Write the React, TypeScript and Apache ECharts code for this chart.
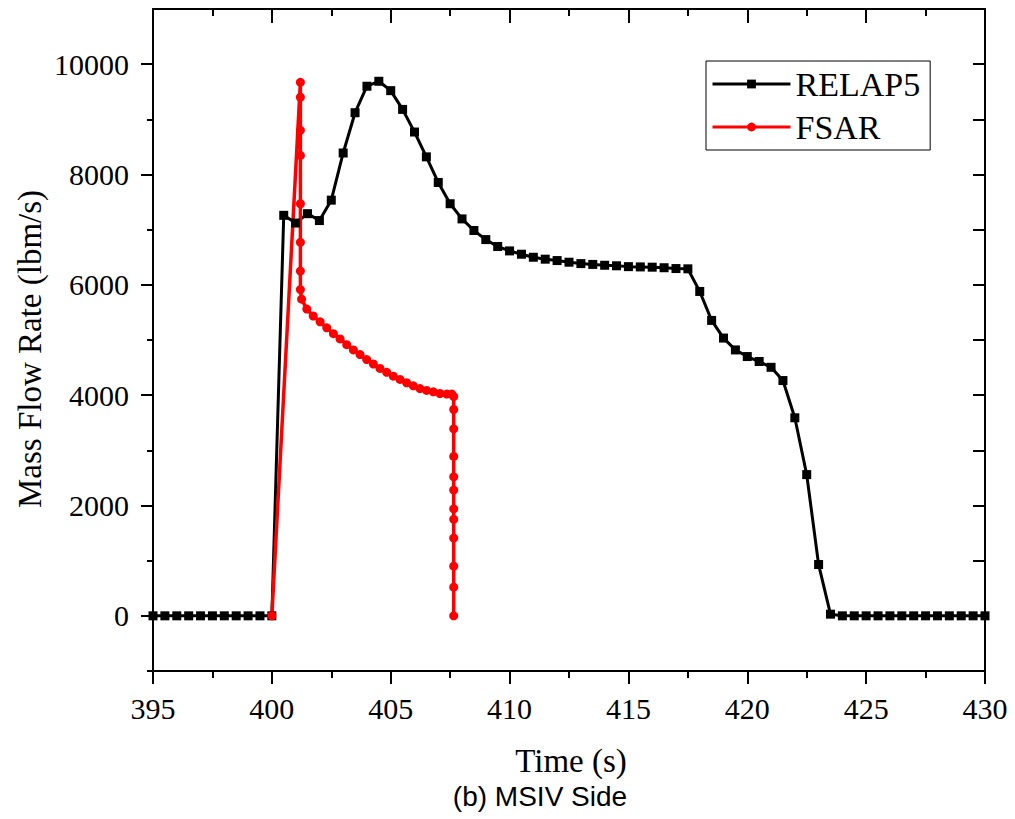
import React, { useEffect, useRef } from "react";
import * as echarts from "echarts";

const relapTime = [
  395, 395.5, 396, 396.5, 397, 397.5, 398, 398.5, 399, 399.5, 400,
  400.5, 401, 401.5, 402, 402.5, 403, 403.5, 404, 404.5, 405, 405.5, 406, 406.5,
  407, 407.5, 408, 408.5, 409, 409.5, 410, 410.5, 411, 411.5, 412, 412.5, 413,
  413.5, 414, 414.5, 415, 415.5, 416, 416.5, 417, 417.5, 418, 418.5, 419, 419.5,
  420, 420.5, 421, 421.5, 422, 422.5, 423, 423.5,
  424, 424.5, 425, 425.5, 426, 426.5, 427, 427.5, 428, 428.5, 429, 429.5, 430,
];
const relapValue = [
  0, 0, 0, 0, 0, 0, 0, 0, 0, 0, 0,
  7260, 7120, 7290, 7165, 7535, 8390, 9120, 9600, 9690, 9520, 9180, 8770, 8320,
  7855, 7470, 7195, 6985, 6820, 6695, 6615, 6555, 6500, 6465, 6440, 6410, 6385,
  6370, 6355, 6345, 6330, 6325, 6320, 6310, 6295, 6290, 5880, 5355, 5035, 4820,
  4700, 4610, 4505, 4265, 3590, 2560, 930, 30,
  0, 0, 0, 0, 0, 0, 0, 0, 0, 0, 0, 0, 0,
];

const fsarTime = [
  400, 401.2, 401.2, 401.2, 401.2, 401.2, 401.2, 401.2, 401.2,
  401.25, 401.47, 401.74, 402.03, 402.31, 402.59, 402.87, 403.15, 403.43, 403.71,
  403.99, 404.27, 404.55, 404.83, 405.11, 405.39, 405.67, 405.95, 406.23, 406.51,
  406.79, 407.07, 407.36, 407.57,
  407.65, 407.65, 407.65, 407.65, 407.65, 407.65, 407.65, 407.65, 407.65, 407.65, 407.65, 407.65,
];
const fsarValue = [
  0, 9670, 9400, 8800, 8345, 7470, 6770, 6250, 5915,
  5740, 5560, 5435, 5330, 5220, 5115, 5020, 4915, 4820, 4735,
  4645, 4565, 4485, 4415, 4345, 4285, 4225, 4170, 4120, 4085,
  4060, 4030, 4020, 4020,
  3975, 3740, 3390, 2890, 2520, 2280, 1940, 1750, 1410, 900, 520, 0,
];

const seriesNames = ["RELAP5", "FSAR"];
const yMajor = [0, 2000, 4000, 6000, 8000, 10000];
const yMinor = [-1000, 1000, 3000, 5000, 7000, 9000];

const serif = "'Liberation Serif', 'Times New Roman', serif";

export default function App() {
  const ref = useRef<HTMLDivElement>(null);
  useEffect(() => {
    if (!ref.current) return;
    const chart = echarts.init(ref.current, undefined, { renderer: "svg" });
    const axisLine = { show: true, onZero: false, lineStyle: { color: "#000", width: 2 } };
    const relapData = relapTime.map((t, i) => [t, relapValue[i]]);
    const fsarData = fsarTime.map((t, i) => [t, fsarValue[i]]);
    chart.setOption({
      animation: false,
      backgroundColor: "#fff",
      grid: { left: 153, right: 30, top: 9, bottom: 148, containLabel: false },
      xAxis: [
        {
          type: "value", min: 395, max: 430, interval: 5, position: "bottom",
          axisLine,
          axisTick: { show: true, length: 13, inside: false, lineStyle: { color: "#000", width: 2 } },
          minorTick: { show: true, splitNumber: 2, length: 7, lineStyle: { color: "#000", width: 2 } },
          axisLabel: { margin: 22, color: "#000", fontSize: 30, fontFamily: serif, formatter: (v: number) => String(v) },
          splitLine: { show: false }, minorSplitLine: { show: false },
        },
        {
          type: "value", min: 395, max: 430, interval: 5, position: "top",
          axisLine,
          axisTick: { show: true, length: 14, inside: true, lineStyle: { color: "#000", width: 2 } },
          minorTick: { show: true, splitNumber: 2, length: 7, lineStyle: { color: "#000", width: 2 } },
          axisLabel: { show: false },
          splitLine: { show: false }, minorSplitLine: { show: false },
        },
      ],
      yAxis: [
        {
          type: "value", min: -1000, max: 11000, interval: 1000, position: "left",
          axisLine,
          axisTick: { show: true, length: 12, inside: false, customValues: yMajor, lineStyle: { color: "#000", width: 2 } },
          axisLabel: { customValues: yMajor, margin: 24, color: "#000", fontSize: 30, fontFamily: serif, formatter: (v: number) => String(v) },
          splitLine: { show: false },
        },
        {
          type: "value", min: -1000, max: 11000, interval: 1000, position: "left",
          axisLine: { show: false },
          axisTick: { show: true, length: 6, inside: false, customValues: yMinor, lineStyle: { color: "#000", width: 2 } },
          axisLabel: { show: false },
          splitLine: { show: false },
        },
        {
          type: "value", min: -1000, max: 11000, interval: 1000, position: "right",
          axisLine,
          axisTick: { show: true, length: 12, inside: true, lineStyle: { color: "#000", width: 2 } },
          axisLabel: { show: false },
          splitLine: { show: false },
        },
      ],
      legend: {
        orient: "vertical", left: 706, top: 61,
        padding: [6, 10, 6, 5], itemGap: 9, itemWidth: 78, itemHeight: 11,
        borderColor: "#000", borderWidth: 1, borderRadius: 0,
        backgroundColor: "#fff",
        lineStyle: { width: 3 },
        textStyle: { fontSize: 34, fontFamily: serif, color: "#000" },
        data: seriesNames,
      },
      series: [
        {
          name: seriesNames[0], type: "line", xAxisIndex: 0, yAxisIndex: 0,
          data: relapData, symbol: "rect", symbolSize: 9, showAllSymbol: true,
          lineStyle: { color: "#000", width: 3 },
          itemStyle: { color: "#000" },
          emphasis: { disabled: true },
        },
        {
          name: seriesNames[1], type: "line", xAxisIndex: 0, yAxisIndex: 0,
          data: fsarData, symbol: "circle", symbolSize: 9, showAllSymbol: true,
          lineStyle: { color: "#ff0000", width: 3.5 },
          itemStyle: { color: "#ff0000" },
          emphasis: { disabled: true },
        },
      ],
      graphic: [
        {
          type: "text", x: 571, y: 761,
          style: { text: "Time (s)", font: `33px ${serif}`, fill: "#000", align: "center", verticalAlign: "middle", textAlign: "center", textVerticalAlign: "middle" },
        },
        {
          type: "text", x: 30, y: 349, rotation: Math.PI / 2,
          style: { text: "Mass Flow Rate (lbm/s)", font: `33px ${serif}`, fill: "#000", align: "center", verticalAlign: "middle", textAlign: "center", textVerticalAlign: "middle" },
        },
        {
          type: "text", x: 540, y: 796,
          style: { text: "(b) MSIV Side", font: "28px 'Liberation Sans', Arial, sans-serif", fill: "#000", align: "center", verticalAlign: "middle", textAlign: "center", textVerticalAlign: "middle" },
        },
      ],
    });
    return () => chart.dispose();
  }, []);
  return (
    <div
      ref={ref}
      style={{ position: "fixed", left: 0, top: 0, width: 1015, height: 819, background: "#fff" }}
    />
  );
}
